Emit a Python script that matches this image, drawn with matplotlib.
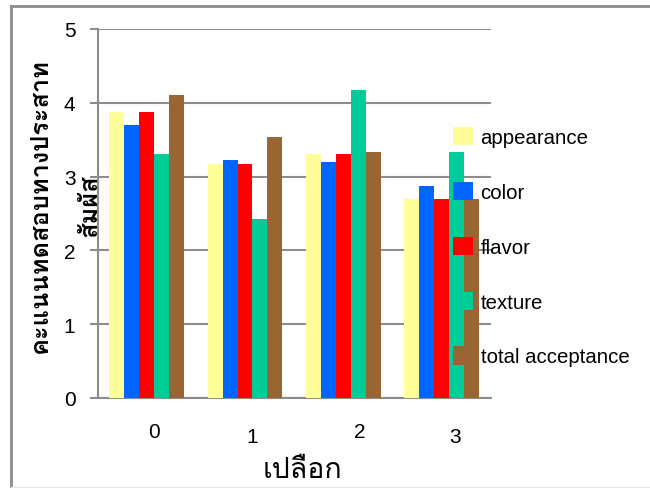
import matplotlib
matplotlib.use('Agg')
import matplotlib.pyplot as plt
from matplotlib import font_manager
from matplotlib.ft2font import FT2Font

# data
groups = ['0', '1', '2', '3']
series = ['appearance', 'color', 'flavor', 'texture', 'total acceptance']
appearance = [3.87, 3.17, 3.30, 2.70]
color = [3.70, 3.23, 3.20, 2.87]
flavor = [3.87, 3.17, 3.30, 2.70]
texture = [3.30, 2.43, 4.17, 3.33]
total = [4.10, 3.53, 3.33, 2.70]
colors = ['#FFFF99', '#0066FF', '#FF0000', '#00CC99', '#996633']
ylabel1 = 'คะแนนทดสอบทางประสาท'
ylabel2 = 'สัมผัส'
xlabel = 'เปลือก'


def find_thai_font():
    prefs = ['Tahoma', 'Loma', 'Garuda', 'Noto Sans Thai Looped', 'Noto Sans Thai',
             'Noto Sans Thai UI', 'Tlwg Typo', 'Sawasdee', 'Norasi', 'Kinnari']
    found = {}
    for f in font_manager.fontManager.ttflist:
        try:
            if 0x0E01 in FT2Font(f.fname).get_charmap():
                found.setdefault(f.name, f.fname)
        except Exception:
            pass
    for p in prefs:
        if p in found:
            return p
    return sorted(found)[0] if found else 'DejaVu Sans'


thai = find_thai_font()
plt.rcParams['font.family'] = ['Liberation Sans', 'DejaVu Sans']

fig = plt.figure(figsize=(6.5, 4.89), dpi=100)
W, H = 650, 489
ax = fig.add_axes([97.7 / W, 1 - 399 / H, (490.5 - 97.7) / W, (399 - 30) / H])

values = [appearance, color, flavor, texture, total]
bw = 0.1527
x = list(range(len(groups)))
bars = []
for i, (name, vals) in enumerate(zip(series, values)):
    b = ax.bar([xi + (i - 2) * bw for xi in x], vals, bw, color=colors[i],
               label=name, zorder=3, linewidth=0)
    bars.append(b)

ax.set_xlim(-0.5, 3.5)
ax.set_ylim(0, 5)
ax.set_yticks([0, 1, 2, 3, 4, 5])
ax.yaxis.grid(True, color='#8c8c8c', linewidth=1.5, zorder=0)
ax.set_axisbelow(True)
for s in ['top', 'right']:
    ax.spines[s].set_visible(False)
for s in ['left', 'bottom']:
    ax.spines[s].set_color('#8c8c8c')
    ax.spines[s].set_linewidth(1.5)
ax.tick_params(axis='y', length=6, width=1.5, color='#8c8c8c', pad=10,
               labelsize=15, labelcolor='black')

# x tick labels sit slightly off the group centres in the original
tick_pos = [0.073, 1.071, 2.171, 3.139]
ax.set_xticks(tick_pos)
ax.set_xticklabels(groups, fontsize=15)
ax.tick_params(axis='x', length=0)
pads = [17, 21, 17, 21]
for t, p in zip(ax.xaxis.get_major_ticks(), pads):
    t.set_pad(p)

fig.text(40 / W, 1 - 206 / H, ylabel1, rotation=90, ha='center', va='center',
         fontsize=18.3, fontweight='bold', family=[thai, 'DejaVu Sans'])
fig.text(89 / W, 1 - 206 / H, ylabel2, rotation=90, ha='center', va='center',
         fontsize=18.3, fontweight='bold', family=[thai, 'DejaVu Sans'])
fig.text(302 / W, 1 - 471 / H, xlabel, ha='center', va='center',
         fontsize=20.5, family=[thai, 'DejaVu Sans'])

ax.legend(handles=bars, loc='upper left', bbox_to_anchor=(453 / W, 1 - 128 / H),
          bbox_transform=fig.transFigure, frameon=False, fontsize=14.7,
          handlelength=1.0, handleheight=1.0, handletextpad=0.35,
          labelspacing=1.7, borderpad=0, borderaxespad=0)

# outer chart border (top and left visible, faint bottom)
fig.add_artist(plt.Line2D([11 / W, 1], [1 - 7 / H, 1 - 7 / H], color='#8c8c8c',
                          linewidth=2, transform=fig.transFigure))
fig.add_artist(plt.Line2D([11 / W, 11 / W], [1 - 7 / H, 0], color='#8c8c8c',
                          linewidth=2, transform=fig.transFigure))
fig.add_artist(plt.Line2D([11 / W, 1], [1 - 487.5 / H, 1 - 487.5 / H], color='#e6e6e6',
                          linewidth=1, transform=fig.transFigure))

fig.savefig('out.png', dpi=100)
